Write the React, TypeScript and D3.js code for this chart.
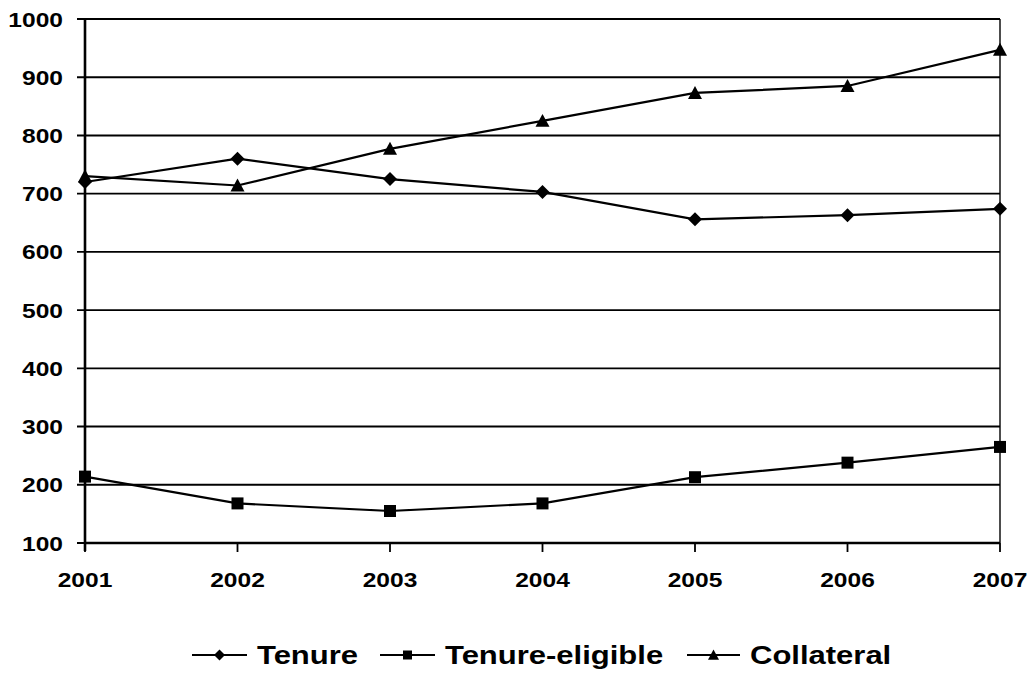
import { useEffect, useRef } from "react";
import * as d3 from "d3";

const years = ["2001", "2002", "2003", "2004", "2005", "2006", "2007"];
const tenure = [720, 760, 725, 703, 656, 663, 674];
const tenureEligible = [214, 168, 155, 168, 213, 238, 265];
const collateral = [730, 714, 777, 825, 873, 885, 947];
const yTicks = [100, 200, 300, 400, 500, 600, 700, 800, 900, 1000];

const seriesList = [
  { name: "Tenure", values: tenure, marker: "diamond" },
  { name: "Tenure-eligible", values: tenureEligible, marker: "square" },
  { name: "Collateral", values: collateral, marker: "triangle" },
];

const FONT = "'Liberation Sans', Arial, sans-serif";
const STRETCH = 1.17;

function markerPath(type, size) {
  const h = size / 2;
  if (type === "diamond") return `M0,${-h}L${h},0L0,${h}L${-h},0Z`;
  if (type === "square") return `M${-h},${-h}H${h}V${h}H${-h}Z`;
  return `M0,${-h}L${h},${h * 0.85}L${-h},${h * 0.85}Z`;
}

export default function App() {
  const svgRef = useRef(null);
  const width = 1034;
  const height = 673;

  useEffect(() => {
    const svg = d3.select(svgRef.current);
    svg.selectAll("*").remove();

    const left = 85;
    const right = 1000;
    const top = 19;
    const bottom = 543;

    const x = d3.scalePoint().domain(years).range([left, right]);
    const y = d3.scaleLinear().domain([100, 1000]).range([bottom, top]);

    // gridlines
    svg
      .append("g")
      .selectAll("line")
      .data(yTicks)
      .enter()
      .append("line")
      .attr("x1", left - 8)
      .attr("x2", right)
      .attr("y1", (d) => y(d))
      .attr("y2", (d) => y(d))
      .attr("stroke", "#000")
      .attr("stroke-width", 1.9);

    // right border
    svg
      .append("line")
      .attr("x1", right)
      .attr("x2", right)
      .attr("y1", top)
      .attr("y2", bottom)
      .attr("stroke", "#000")
      .attr("stroke-width", 1.4);

    // left axis
    svg
      .append("line")
      .attr("x1", left)
      .attr("x2", left)
      .attr("y1", top)
      .attr("y2", bottom + 8)
      .attr("stroke", "#000")
      .attr("stroke-width", 2.6);

    // bottom axis + ticks
    svg
      .append("line")
      .attr("x1", left)
      .attr("x2", right)
      .attr("y1", bottom)
      .attr("y2", bottom)
      .attr("stroke", "#000")
      .attr("stroke-width", 2.4);
    svg
      .append("g")
      .selectAll("line")
      .data(years)
      .enter()
      .append("line")
      .attr("x1", (d) => x(d))
      .attr("x2", (d) => x(d))
      .attr("y1", bottom)
      .attr("y2", bottom + 9)
      .attr("stroke", "#000")
      .attr("stroke-width", 1.8);

    // y labels
    svg
      .append("g")
      .selectAll("text")
      .data(yTicks)
      .enter()
      .append("text")
      .attr("transform", (d) => `translate(63,${y(d) + 7.5}) scale(${STRETCH},1)`)
      .attr("text-anchor", "end")
      .attr("font-family", FONT)
      .attr("font-weight", "bold")
      .attr("font-size", 21)
      .text((d) => d);

    // x labels
    svg
      .append("g")
      .selectAll("text")
      .data(years)
      .enter()
      .append("text")
      .attr("transform", (d) => `translate(${x(d)},587) scale(${STRETCH},1)`)
      .attr("text-anchor", "middle")
      .attr("font-family", FONT)
      .attr("font-weight", "bold")
      .attr("font-size", 21)
      .text((d) => d);

    // series
    const line = d3
      .line()
      .x((d, i) => x(years[i]))
      .y((d) => y(d));

    seriesList.forEach((s) => {
      svg
        .append("path")
        .attr("d", line(s.values))
        .attr("fill", "none")
        .attr("stroke", "#000")
        .attr("stroke-width", 2.2);
      const size = s.marker === "square" ? 12 : 14;
      svg
        .append("g")
        .selectAll("path")
        .data(s.values)
        .enter()
        .append("path")
        .attr("transform", (d, i) => `translate(${x(years[i])},${y(d)})`)
        .attr("d", markerPath(s.marker, size))
        .attr("fill", "#000");
    });

    // legend
    const legendY = 655;
    const legendItems = [
      { x1: 192, x2: 247, tx: 257 },
      { x1: 380, x2: 435, tx: 445 },
      { x1: 687, x2: 740, tx: 750 },
    ];
    seriesList.forEach((s, i) => {
      const it = legendItems[i];
      svg
        .append("line")
        .attr("x1", it.x1)
        .attr("x2", it.x2)
        .attr("y1", legendY)
        .attr("y2", legendY)
        .attr("stroke", "#000")
        .attr("stroke-width", 2);
      svg
        .append("path")
        .attr("transform", `translate(${(it.x1 + it.x2) / 2},${legendY})`)
        .attr("d", markerPath(s.marker, s.marker === "square" ? 9 : 11))
        .attr("fill", "#000");
      svg
        .append("text")
        .attr("transform", `translate(${it.tx},${legendY + 9}) scale(${STRETCH},1)`)
        .attr("font-family", FONT)
        .attr("font-weight", "bold")
        .attr("font-size", 26.5)
        .text(s.name);
    });
  }, []);

  return (
    <svg
      ref={svgRef}
      width={width}
      height={height}
      style={{ position: "absolute", left: 0, top: 0, background: "#fff" }}
    ></svg>
  );
}
